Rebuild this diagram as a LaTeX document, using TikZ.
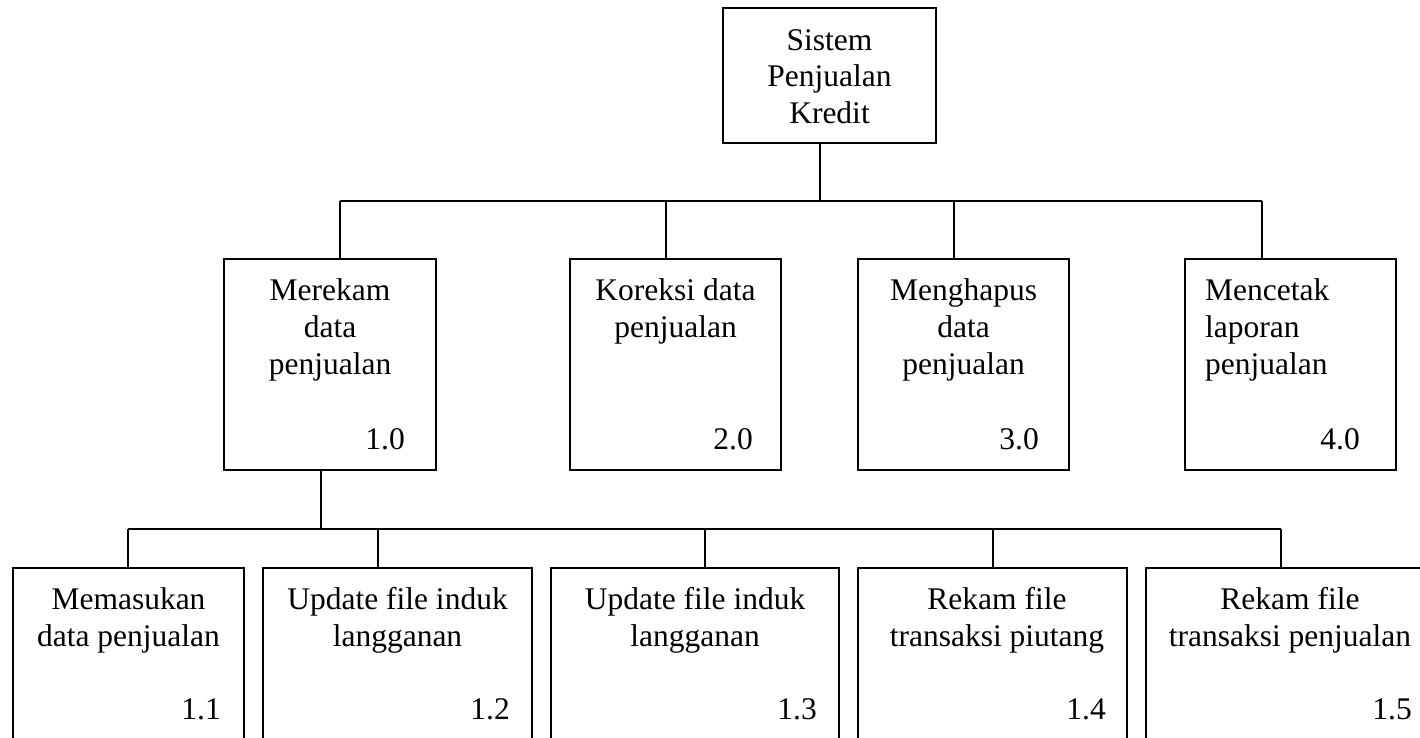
\documentclass[tikz,border=0pt]{standalone}
\usepackage{fontspec}
\setmainfont{Liberation Serif}
\usetikzlibrary{calc}
\begin{document}
\begin{tikzpicture}[x=1pt,y=-1pt,
  box/.style={draw,line width=2pt,rectangle,inner sep=0pt,minimum width=#1},
  box/.default=211pt,
  % multi-line labels are anchored at the baseline of their last line
  lbl/.style={inner sep=0pt,anchor=base,align=center,font=\fontsize{31.5}{37}\selectfont},
  lbll/.style={lbl,align=left,anchor=base west},
  num/.style={inner sep=0pt,anchor=base east,font=\fontsize{31.5}{37}\selectfont},
  link/.style={line width=2pt}]
\clip (0,0) rectangle (1420,737);
\fill[white] (0,0) rectangle (1420,737);

% top process
\node[box=213pt,minimum height=135pt] (top) at (829.5,75.5) {};
\node[lbl,font=\fontsize{31.5}{36.5}\selectfont] (topt) at (829.5,123) {Sistem\\Penjualan\\Kredit};

% level 1
\node[box=212pt,minimum height=211pt] (m1) at (330,364.5) {};
\node[box,minimum height=211pt] (m2) at (675.5,364.5) {};
\node[box,minimum height=211pt] (m3) at (963.5,364.5) {};
\node[box,minimum height=211pt] (m4) at (1290.5,364.5) {};
\node[lbl] (m1t) at (330,374) {Merekam\\data\\penjualan};
\node[lbl] (m2t) at (675.5,337) {Koreksi data\\penjualan};
\node[lbl] (m3t) at (963.5,374) {Menghapus\\data\\penjualan};
\node[lbll] (m4t) at (1205,374) {Mencetak\\laporan\\penjualan};
\node[num] (m1n) at (405,449) {1.0};
\node[num] (m2n) at (753,449) {2.0};
\node[num] (m3n) at (1039,449) {3.0};
\node[num] (m4n) at (1360,449) {4.0};

% level 2 under 1.0
\node[box=231pt,minimum height=173pt] (s1) at (128.5,654.5) {};
\node[box=269pt,minimum height=173pt] (s2) at (397.5,654.5) {};
\node[box=288pt,minimum height=173pt] (s3) at (695,654.5) {};
\node[box=269pt,minimum height=173pt] (s4) at (992.5,654.5) {};
\node[box=288pt,minimum height=173pt] (s5) at (1290,654.5) {};
\node[lbl] (s1t) at (128.5,646) {Memasukan\\data penjualan};
\node[lbl] (s2t) at (397.5,646) {Update file induk\\langganan};
\node[lbl] (s3t) at (695,646) {Update file induk\\langganan};
\node[lbl] (s4t) at (997,646) {Rekam file\\transaksi piutang};
\node[lbl] (s5t) at (1290,646) {Rekam file\\transaksi penjualan};
\node[num] (s1n) at (221,719) {1.1};
\node[num] (s2n) at (510,719) {1.2};
\node[num] (s3n) at (817,719) {1.3};
\node[num] (s4n) at (1106,719) {1.4};
\node[num] (s5n) at (1412,719) {1.5};

% bus taps
\coordinate (t0) at (820,201);
\coordinate (t1) at (340,201);
\coordinate (t2) at (666,201);
\coordinate (t3) at (954,201);
\coordinate (t4) at (1262,201);
\coordinate (b0) at (321,529);
\coordinate (b1) at (128,529);
\coordinate (b2) at (378,529);
\coordinate (b3) at (705,529);
\coordinate (b4) at (993,529);
\coordinate (b5) at (1281,529);

% connectors to level 1
\draw[link] (top.south -| t0) -- (t0);
\draw[link] (t1) -- (t4);
\draw[link] (t1) -- (m1.north -| t1);
\draw[link] (t2) -- (m2.north -| t2);
\draw[link] (t3) -- (m3.north -| t3);
\draw[link] (t4) -- (m4.north -| t4);

% connectors to level 2
\draw[link] (m1.south -| b0) -- (b0);
\draw[link] (b1) -- (b5);
\draw[link] (b1) -- (s1.north -| b1);
\draw[link] (b2) -- (s2.north -| b2);
\draw[link] (b3) -- (s3.north -| b3);
\draw[link] (b4) -- (s4.north -| b4);
\draw[link] (b5) -- (s5.north -| b5);
\end{tikzpicture}
\end{document}
